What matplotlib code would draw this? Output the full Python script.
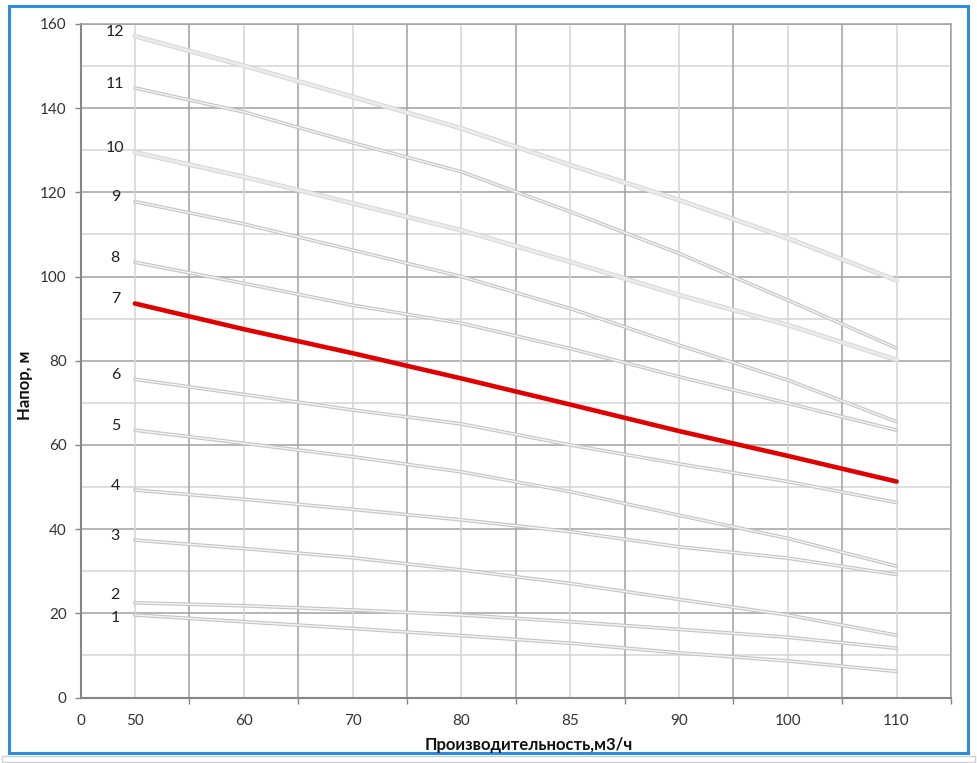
import matplotlib
matplotlib.use("Agg")
import matplotlib.pyplot as plt
from matplotlib.patches import Rectangle
import numpy as np

plt.rcParams['font.family'] = ['Lato', 'DejaVu Sans']

# Flow categories (m3/h) as shown on the x axis
flow_labels = ["50", "60", "70", "80", "85", "90", "100", "110"]
axis_labels = ["0"] + flow_labels

# Head (m) for each curve 1..12 at each flow category
curve_1 = [19.6, 18.0, 16.4, 14.7, 12.9, 10.6, 8.7, 6.2]
curve_2 = [22.5, 21.8, 20.8, 19.6, 18.0, 16.2, 14.3, 11.7]
curve_3 = [37.4, 35.4, 33.2, 30.3, 27.1, 23.3, 19.6, 14.8]
curve_4 = [49.3, 47.1, 44.7, 42.2, 39.4, 35.8, 33.1, 29.2]
curve_5 = [63.5, 60.4, 57.2, 53.6, 48.9, 43.3, 37.8, 31.2]
curve_6 = [75.6, 72.0, 68.3, 65.0, 60.0, 55.5, 51.3, 46.3]
curve_7 = [93.6, 87.5, 81.8, 75.8, 69.6, 63.3, 57.4, 51.3]
curve_8 = [103.4, 98.4, 93.2, 88.9, 82.9, 76.2, 69.9, 63.5]
curve_9 = [117.8, 112.5, 106.3, 100.0, 92.4, 83.7, 75.4, 65.5]
curve_10 = [129.5, 123.7, 117.4, 111.0, 103.5, 95.6, 88.5, 80.2]
curve_11 = [144.8, 139.1, 131.8, 124.9, 115.4, 105.5, 94.4, 83.0]
curve_12 = [157.1, 150.1, 142.7, 135.2, 126.5, 118.2, 109.1, 99.1]

curves = [curve_1, curve_2, curve_3, curve_4, curve_5, curve_6,
          curve_7, curve_8, curve_9, curve_10, curve_11, curve_12]
curve_names = [str(i) for i in range(1, 13)]
highlight = "7"

W, H = 977, 763
fig = plt.figure(figsize=(W / 100, H / 100), dpi=100)
ax = fig.add_axes([80.5 / W, 1 - 697.5 / H, (951 - 80.5) / W, (697.5 - 24) / H])

# category positions: labels sit on odd grid positions of a 0..16 axis
pos = np.arange(len(flow_labels)) * 2 + 1

ax.set_xlim(0, 16)
ax.set_ylim(0, 160)

# grid
major_c, minor_c = "#a0a0a0", "#d4d4d4"
for v in range(10, 160, 20):
    ax.axhline(v, color=minor_c, lw=1.1, zorder=0)
for v in range(20, 161, 20):
    ax.axhline(v, color=major_c, lw=1.1, zorder=0)
for v in range(1, 16, 2):
    ax.axvline(v, color=minor_c, lw=1.1, zorder=0)
for v in range(2, 17, 2):
    ax.axvline(v, color=major_c, lw=1.1, zorder=0)

thick_light = {"10", "12"}
for name, vals in zip(curve_names, curves):
    if name == highlight:
        ax.plot(pos, vals, color="#e00000", lw=3.3, solid_capstyle="round", zorder=5)
    elif name in thick_light:
        ax.plot(pos, vals, color="#d6d6d6", lw=3.4, solid_capstyle="round", zorder=3)
        ax.plot(pos, vals, color="#ebebeb", lw=2.0, solid_capstyle="round", zorder=3)
    else:
        ax.plot(pos, vals, color="#c4c4c4", lw=2.6, solid_capstyle="round", zorder=3)
        ax.plot(pos, vals, color="#f4f4f4", lw=1.0, solid_capstyle="round", zorder=3)
    off = {"1": -0.8, "2": 1.8}.get(name, 1.0)
    ax.text(0.64, vals[0] + off, name, ha="center", va="center", fontsize=11.5, color="#222222")

# ticks
ax.set_yticks(np.arange(0, 161, 20))
ax.tick_params(axis="y", which="major", length=4, width=1, color="#868686",
               labelsize=11, labelcolor="#333333", pad=6)
ax.set_xticks(np.concatenate([[0], pos]))
ax.set_xticklabels(axis_labels)
ax.tick_params(axis="x", which="major", length=0, labelsize=11,
               labelcolor="#333333", pad=12)
ax.set_xticks(np.arange(0, 17, 2), minor=True)
ax.tick_params(axis="x", which="minor", length=4, width=1, color="#868686")

for side in ["left", "bottom"]:
    ax.spines[side].set_color("#868686")
    ax.spines[side].set_linewidth(1.5)
for side in ["top", "right"]:
    ax.spines[side].set_color(major_c)
    ax.spines[side].set_linewidth(1.1)

fig.text(25 / W, 1 - 385 / H, "Напор, м", rotation=90, ha="center", va="center",
         fontsize=12, fontweight="bold", color="#111111")
fig.text(529 / W, 1 - 745 / H, "Производительность,м3/ч", ha="center", va="center",
         fontsize=12, fontweight="bold", color="#111111")

# outer blue frame
fig.patches.append(Rectangle((9 / W, 1 - 753 / H), (968 - 9) / W, (753 - 6) / H,
                             transform=fig.transFigure, fill=False,
                             edgecolor="#2b8ee0", lw=2.2))
fig.patches.append(Rectangle((2 / W, 1 - 762 / H), (975 - 2) / W, (762 - 756) / H,
                             transform=fig.transFigure, fill=False,
                             edgecolor="#cfcfcf", lw=1.0))

fig.savefig("out.png", dpi=100)
